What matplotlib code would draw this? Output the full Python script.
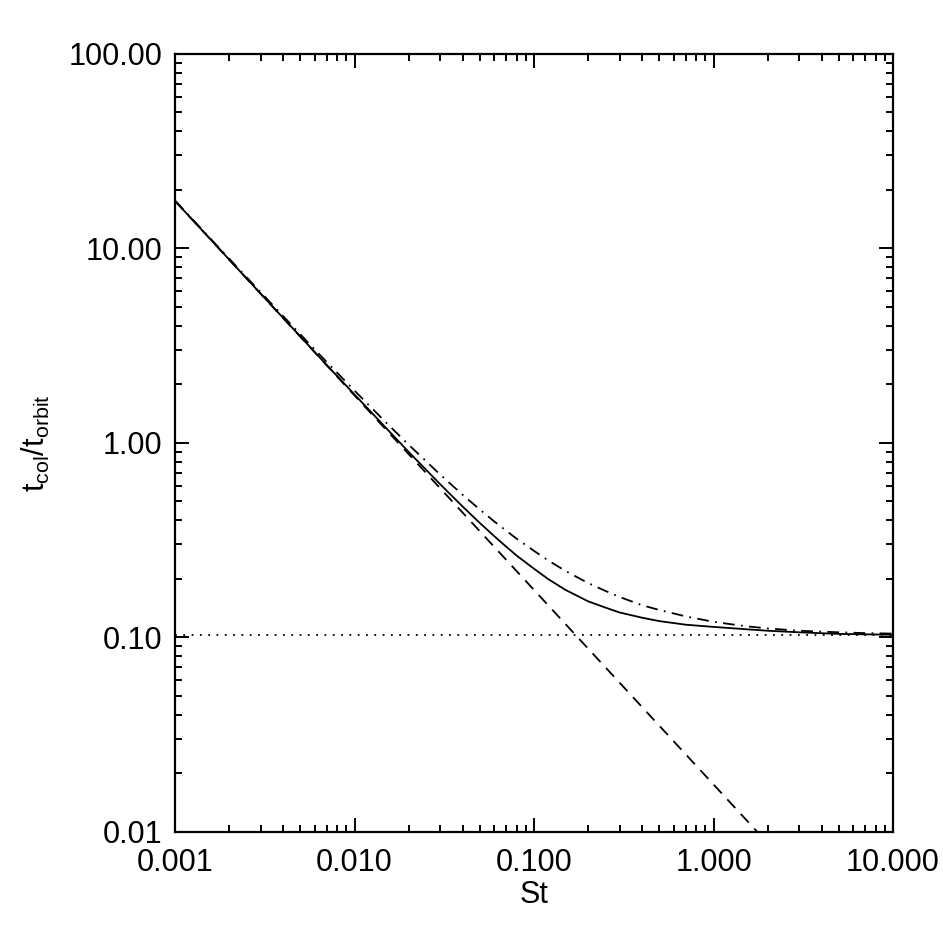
import numpy as np
import matplotlib.pyplot as plt
from matplotlib.ticker import LogLocator, FixedLocator, NullFormatter

plt.rcParams['font.family'] = ['Liberation Sans', 'DejaVu Sans']
plt.rcParams['mathtext.fontset'] = 'custom'
plt.rcParams['mathtext.rm'] = 'Liberation Sans'
plt.rcParams['mathtext.it'] = 'Liberation Sans'

# values
st = [0.001, 0.0015, 0.002, 0.003, 0.005, 0.007, 0.01, 0.015, 0.02, 0.03,
      0.04, 0.05, 0.06, 0.07, 0.08, 0.1, 0.12, 0.15, 0.2, 0.25,
      0.3, 0.4, 0.5, 0.7, 1.0, 1.5, 2.0, 3.0, 5.0, 7.0, 10.0]
t_solid = [17.5, 11.68, 8.76, 5.84, 3.51, 2.51, 1.77, 1.19, 0.898, 0.612,
           0.470, 0.386, 0.331, 0.292, 0.263, 0.225, 0.199, 0.175, 0.153, 0.142,
           0.134, 0.126, 0.121, 0.116, 0.113, 0.110, 0.108, 0.106, 0.104, 0.1035, 0.103]
t_dashdot = [17.6, 11.77, 8.85, 5.94, 3.60, 2.60, 1.853, 1.269, 0.978, 0.686,
             0.540, 0.453, 0.394, 0.353, 0.321, 0.278, 0.248, 0.219, 0.190, 0.173,
             0.161, 0.146, 0.138, 0.128, 0.120, 0.114, 0.111, 0.108, 0.106, 0.105, 0.1044]
st_dash = [0.001, 2.0]
t_dash = [17.5, 0.00875]
t_floor = 0.1026

xticks = [0.001, 0.01, 0.1, 1.0, 10.0]
xlabels = ['0.001', '0.010', '0.100', '1.000', '10.000']
yticks = [0.01, 0.1, 1.0, 10.0, 100.0]
ylabels = ['0.01', '0.10', '1.00', '10.00', '100.00']

fig = plt.figure(figsize=(9.43, 9.43), dpi=100)
ax = fig.add_axes([0.1856, 0.118, 0.947 - 0.1856, 0.943 - 0.118])

ax.plot(st, t_solid, color='black', lw=1.3)
ax.plot(st, t_dashdot, color='black', lw=1.3, dashes=(6.5, 3.5, 1, 3.5))
ax.plot(st_dash, t_dash, color='black', lw=1.3, dashes=(6.5, 4.5))
ax.plot([st[0], st[-1]], [t_floor, t_floor], color='black', lw=1.3, dashes=(1, 3.6))

ax.set_xscale('log')
ax.set_yscale('log')
ax.set_xlim(0.001, 10.0)
ax.set_ylim(0.01, 100.0)

ax.xaxis.set_major_locator(FixedLocator(xticks))
ax.set_xticklabels(xlabels)
ax.yaxis.set_major_locator(FixedLocator(yticks))
ax.set_yticklabels(ylabels)
ax.xaxis.set_minor_locator(LogLocator(base=10, subs=np.arange(2, 10)))
ax.yaxis.set_minor_locator(LogLocator(base=10, subs=np.arange(2, 10)))
ax.xaxis.set_minor_formatter(NullFormatter())
ax.yaxis.set_minor_formatter(NullFormatter())

ax.tick_params(which='both', direction='in', top=True, right=True,
               width=1.4, labelsize=22)
ax.tick_params(which='major', length=10)
ax.tick_params(which='minor', length=5)
ax.tick_params(axis='x', which='major', pad=12)
ax.tick_params(axis='y', which='major', pad=9)
for s in ax.spines.values():
    s.set_linewidth(1.6)

ax.set_xlabel('St', fontsize=22, labelpad=1)
ax.set_ylabel(r'$\mathregular{t_{col}/t_{orbit}}$', fontsize=22, labelpad=12)

fig.savefig('out.png', dpi=100)
